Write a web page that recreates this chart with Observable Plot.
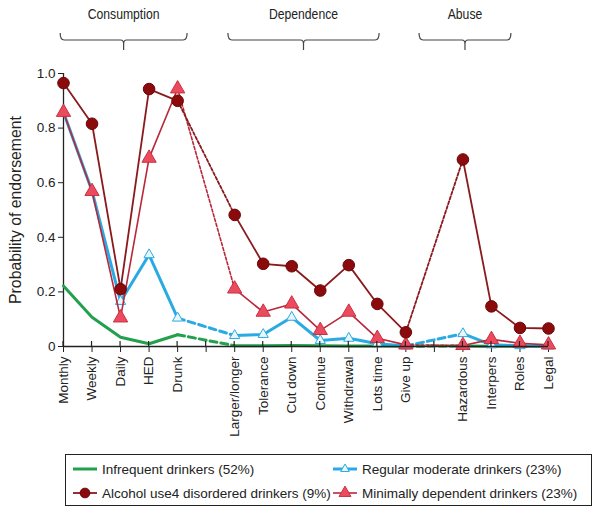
<!DOCTYPE html>
<html><head><meta charset="utf-8">
<script src="https://cdn.jsdelivr.net/npm/d3@7"></script>
<script src="https://cdn.jsdelivr.net/npm/@observablehq/plot@0.6"></script>
<style>
body{margin:0;background:#fff;font-family:Arial,"Liberation Sans",sans-serif;}
#wrap{position:relative;width:600px;height:512px;}
#legend{position:absolute;left:65px;top:454px;width:527px;height:52px;border:1px solid #222;box-sizing:border-box;font-size:13.5px;color:#222;font-family:Arial,"Liberation Sans",sans-serif;}
.item{position:absolute;display:flex;align-items:center;height:20px;white-space:nowrap;}
.item svg{margin-right:4px;}
</style></head><body><div id="wrap"><div id="chart"></div><div id="legend"></div></div>
<script>
// ---- data ----
const groups = ["Consumption", "Dependence", "Abuse"];
const categories = ["Monthly","Weekly","Daily","HED","Drunk",
  "Larger/longer","Tolerance","Cut down","Continue","Withdrawal","Lots time","Give up",
  "Hazardous","Interpers","Roles","Legal"];
const categoryGroup = [0,0,0,0,0, 1,1,1,1,1,1,1, 2,2,2,2];

const infrequent = [0.222,0.107,0.034,0.010,0.043, 0.003,0.003,0.004,0.003,0.002,0.002,0.001, 0.002,0.001,0.001,0.001];
const regular    = [0.858,0.570,0.165,0.336,0.104, 0.040,0.044,0.107,0.022,0.030,0.010,0.002, 0.047,0.006,0.003,0.002];
const minimal    = [0.858,0.568,0.105,0.690,0.944, 0.211,0.126,0.156,0.059,0.126,0.030,0.006, 0.004,0.026,0.012,0.006];
const disordered = [0.965,0.816,0.210,0.943,0.900, 0.482,0.303,0.294,0.205,0.298,0.156,0.052, 0.685,0.147,0.068,0.066];

const seriesNames = ["Infrequent drinkers (52%)","Regular moderate drinkers (23%)","Minimally dependent drinkers (23%)","Alcohol use4 disordered drinkers (9%)"];
const yTicks = [0,0.2,0.4,0.6,0.8,1.0];
const yTickLabels = ["0","0.2","0.4","0.6","0.8","1.0"];
const yLabel = "Probability of endorsement";

// ---- styles ----
const styles = [
  {values: infrequent, stroke:"#22a04c", width:3, dash:"7,4", symbol:null},
  {values: regular,    stroke:"#2aaae2", width:3, dash:"7,4", symbol:"triangle", r:3.8, fill:"#e9f6fc", sstroke:"#2aaae2"},
  {values: minimal,    stroke:"#b8283a", width:1.6, dash:"3,2", symbol:"triangle", r:5.3, fill:"#ec4a5f", sstroke:"#c8323f"},
  {values: disordered, stroke:"#8a1a1e", width:1.8, dash:"3,2", symbol:"circle", r:5.8, fill:"#8b0a0c", sstroke:"#6a0608"}
];

// position: category index plus one gap slot per group change
const pos = categories.map((c,i) => i + categoryGroup[i]);
const xTicks = d3.range(0, d3.max(pos) + 1);
const labelAt = new Map(pos.map((p,i) => [p, categories[i]]));

const marks = [];
styles.forEach((s, si) => {
  const rows = categories.map((c,i) => ({x: pos[i], y: s.values[i], g: categoryGroup[i]}));
  marks.push(Plot.line(rows, {x:"x", y:"y", z:"g", stroke:s.stroke, strokeWidth:s.width}));
  const bridges = [];
  for (let g = 0; g < groups.length - 1; g++) {
    const a = rows.filter(r => r.g === g).at(-1);
    const b = rows.filter(r => r.g === g + 1)[0];
    bridges.push({...a, b:g}, {...b, b:g});
  }
  marks.push(Plot.line(bridges, {x:"x", y:"y", z:"b", stroke:s.stroke, strokeWidth:s.width, strokeDasharray:s.dash}));
  if (s.symbol) {
    marks.push(Plot.dot(rows, {x:"x", y:"y", symbol:s.symbol, r:s.r, fill:s.fill, stroke:s.sstroke, strokeWidth:1}));
  }
});

const plot = Plot.plot({
  width: 600, height: 452,
  marginLeft: 63, marginRight: 52, marginTop: 73, marginBottom: 106,
  style: {fontFamily: "Arial, 'Liberation Sans', sans-serif", fontSize: "13.5px", color: "#222", background: "#fff"},
  x: {type: "linear", domain: [0, d3.max(pos)]},
  y: {domain: [0, 1]},
  marks: [
    Plot.axisY({ticks: yTicks, tickFormat: d => yTickLabels[yTicks.indexOf(d)], tickSize: 5, tickPadding: 3, label: null, fontSize: 13.5}),
    Plot.axisX({ticks: xTicks, tickFormat: p => labelAt.get(p) || "", tickRotate: -90, tickSize: 6, tickPadding: 4, label: null, fontSize: 13.5}),
    Plot.ruleX([0], {stroke: "#222", strokeWidth: 1.3}),
    ...marks,
    Plot.ruleY([0], {stroke: "#222", strokeWidth: 1.3}),
    Plot.text([yLabel], {frameAnchor: "left", textAnchor: "middle", rotate: -90, dx: -48, fontSize: 15.8, fill: "#222"})
  ]
});
document.getElementById("chart").appendChild(plot);

// ---- decorations using the plot's scales ----
const sx = plot.scale("x"), sy = plot.scale("y");
const svg = d3.select(plot);
const y0 = sy.apply(0);
// upward half of x ticks
svg.append("g").selectAll("line").data(xTicks).join("line")
  .attr("x1", d => sx.apply(d)).attr("x2", d => sx.apply(d))
  .attr("y1", y0 - 5).attr("y2", y0).attr("stroke", "#222").attr("stroke-width", 1.2);

// group braces (span in category-position units)
const braceSpan = [[-0.1, 4.35], [5.78, 11.08], [12.48, 15.7]];
const bg = svg.append("g").attr("fill", "none").attr("stroke", "#444").attr("stroke-width", 1.2);
braceSpan.forEach(([a, b], gi) => {
  const x1 = sx.apply(a), x2 = sx.apply(b), cx = (x1 + x2) / 2;
  const yb = 40, yt = 33, yn = 50;
  bg.append("path").attr("d",
    `M${x1},${yt} Q${x1},${yb} ${x1+4},${yb} H${cx-3} Q${cx},${yb} ${cx},${yb+4} V${yn} M${cx},${yb+4} Q${cx},${yb} ${cx+3},${yb} H${x2-4} Q${x2},${yb} ${x2},${yt}`);
  const t = svg.append("text").attr("x", cx).attr("y", 19).attr("text-anchor", "middle")
    .attr("font-family", "Arial, 'Liberation Sans', sans-serif").attr("font-size", 14.5).attr("fill", "#222")
    .text(groups[gi]);
  const natural = t.node().getComputedTextLength();
  t.attr("textLength", natural * 0.84).attr("lengthAdjust", "spacingAndGlyphs");
});

// ---- legend ----
const legendOrder = [0, 1, 3, 2];
const legendPos = [[6, 4], [266, 4], [6, 28], [266, 28]];
const lg = document.getElementById("legend");
legendOrder.forEach((si, k) => {
  const s = styles[si];
  const div = document.createElement("div");
  div.className = "item";
  div.style.left = legendPos[k][0] + "px";
  div.style.top = legendPos[k][1] + "px";
  const w = 26, h = 20;
  const sw = d3.create("svg").attr("width", w).attr("height", h);
  sw.append("line").attr("x1", 1).attr("x2", w - 1).attr("y1", h/2).attr("y2", h/2)
    .attr("stroke", s.stroke).attr("stroke-width", s.width);
  if (s.symbol) {
    const sym = s.symbol === "circle" ? d3.symbolCircle : d3.symbolTriangle;
    sw.append("path").attr("d", d3.symbol(sym, Math.PI * s.r * s.r * 0.7)())
      .attr("transform", `translate(${w/2},${h/2})`)
      .attr("fill", s.fill).attr("stroke", s.sstroke);
  }
  div.appendChild(sw.node());
  const t = document.createElement("span");
  t.textContent = seriesNames[si];
  div.appendChild(t);
  lg.appendChild(div);
});
</script></body></html>
